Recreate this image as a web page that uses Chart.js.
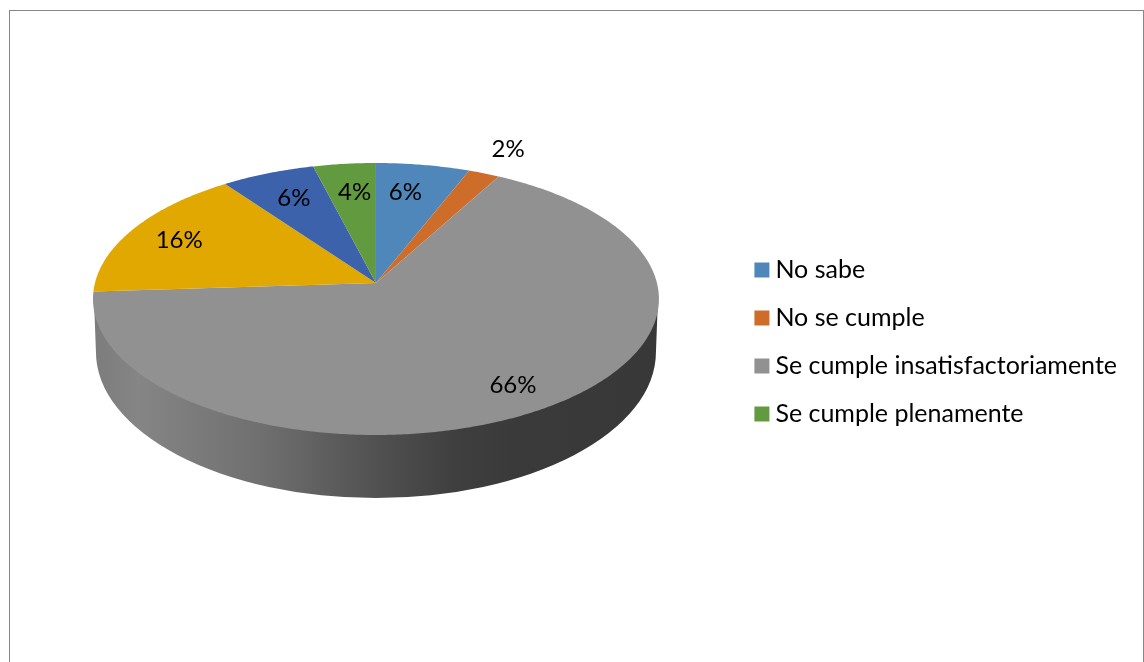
<!DOCTYPE html>
<html>
<head>
<meta charset="utf-8">
<style>
  html, body { margin: 0; padding: 0; background: #fff; overflow: hidden; }
  #frame { position: absolute; left: 9px; top: 10px; width: 1133px; height: 660px; border: 1px solid #868686; border-bottom: 0; }
  #pie { position: absolute; left: 0; top: 0; }
</style>
<script src="https://cdn.jsdelivr.net/npm/chart.js@4"></script>
</head>
<body>
<div id="frame"></div>
<canvas id="pie" width="1144" height="662"></canvas>
<script>
const categories = ["No sabe", "No se cumple", "Se cumple insatisfactoriamente", "", "", "Se cumple plenamente"];
const values = [6, 2, 66, 16, 6, 4];
const colors = ["#4f87ba", "#ce6d2a", "#919191", "#e0a800", "#3b62aa", "#629a40"];
// label shift from the slice's mid point, office puts them a bit off centre
const labelShift = [[-7, 0], [49, -49], [15, 11], [-13, -1], [1, 0], [3, 1]];

const font = "Lato, sans-serif";
// tilted disc: circle angle -> screen, with some perspective so the centre sits above the ellipse centre
const rx = 281, ry = 134.1, persp = 0.1176, apexUp = 59;
// top ellipse centre and the rim's lower ellipse, relative to the apex
const topDrop = 16, rimDrop = 69, rimRx = 280, rimRy = 146;

function project(arc, angle, r) {
    const d = 1 - persp * r * Math.sin(angle);
    return {
        x: arc.x + rx * r * Math.cos(angle) / d,
        y: arc.y - apexUp + ry * r * Math.sin(angle) / d
    };
}

function drawSide(ctx, arc) {
    const cy = arc.y - apexUp;
    const g = ctx.createLinearGradient(arc.x - 283, 0, arc.x + 283, 0);
    g.addColorStop(0, "#7c7c7c");
    g.addColorStop(0.08, "#858585");
    g.addColorStop(0.3, "#6f6f6f");
    g.addColorStop(0.5, "#515151");
    g.addColorStop(0.65, "#3e3e3e");
    g.addColorStop(0.75, "#3a3a3a");
    g.addColorStop(1, "#383838");
    ctx.beginPath();
    ctx.ellipse(arc.x, cy + rimDrop, rimRx, rimRy, 0, 0, Math.PI);
    ctx.lineTo(arc.x - 282, cy + topDrop);
    ctx.lineTo(arc.x + 282, cy + topDrop);
    ctx.closePath();
    ctx.fillStyle = g;
    ctx.fill();
}

const pie3d = {
    id: "pie3d",
    beforeDatasetDraw(chart) {
        const ctx = chart.ctx;
        const arcs = chart.getDatasetMeta(0).data;
        ctx.save();
        drawSide(ctx, arcs[0]);
        arcs.forEach((arc, i) => {
            const apex = project(arc, 0, 0);
            ctx.beginPath();
            ctx.moveTo(apex.x, apex.y);
            for (let a = arc.startAngle; a < arc.endAngle; a += 0.01) {
                const p = project(arc, a, 1);
                ctx.lineTo(p.x, p.y);
            }
            const end = project(arc, arc.endAngle, 1);
            ctx.lineTo(end.x, end.y);
            ctx.closePath();
            ctx.fillStyle = colors[i];
            ctx.fill();
        });
        ctx.restore();
        return false;
    },
    afterDatasetsDraw(chart) {
        const ctx = chart.ctx;
        const arcs = chart.getDatasetMeta(0).data;
        ctx.save();
        ctx.font = "24px " + font;
        ctx.fillStyle = "#000";
        ctx.textAlign = "center";
        ctx.textBaseline = "middle";
        arcs.forEach((arc, i) => {
            const p = project(arc, (arc.startAngle + arc.endAngle) / 2, 0.75);
            ctx.fillText(values[i] + "%", p.x + labelShift[i][0], p.y + labelShift[i][1]);
        });
        ctx.restore();
    }
};

new Chart(document.getElementById("pie"), {
    type: "pie",
    data: {
        labels: categories,
        datasets: [{ data: values, backgroundColor: colors, borderWidth: 0 }]
    },
    plugins: [pie3d],
    options: {
        responsive: false,
        animation: false,
        layout: { padding: { top: 22, left: 14, right: 17 } },
        plugins: {
            tooltip: { enabled: false },
            legend: {
                position: "right",
                labels: {
                    filter: item => item.text !== "",
                    usePointStyle: true,
                    pointStyle: "rect",
                    boxWidth: 2,
                    boxHeight: 15,
                    padding: 23,
                    color: "#000",
                    font: { family: font, size: 25 }
                }
            }
        }
    }
});
</script>
</body>
</html>
